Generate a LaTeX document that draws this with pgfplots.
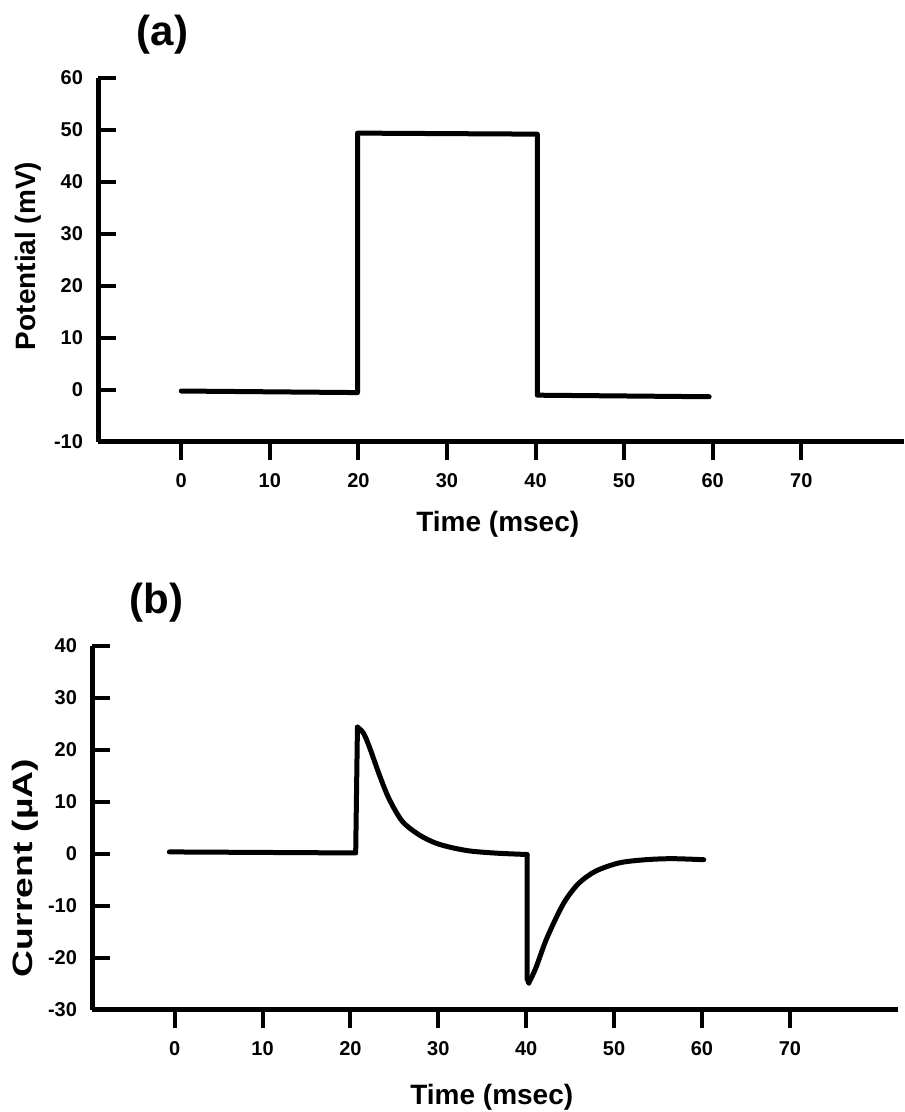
\documentclass[border=0pt]{standalone}
\usepackage{fontspec}
\setmainfont{Liberation Sans}
\usepackage{graphicx}
\usepackage{pgfplots}
\pgfplotsset{compat=1.18}

\pgfplotsset{
  panel/.style={
    scale only axis,
    width=403pt, height=182pt,
    anchor=south west,
    axis lines*=left,
    axis line style={line width=2.5pt, black},
    tick align=outside,
    tick style={line width=2pt, black},
    major tick length=9pt,
    ytick style={xshift=9pt},
    % downward x ticks drawn as short grid stubs below the axis
    xmajorgrids,
    x grid style={black, line width=2pt, dash pattern=on 9pt off 400pt, yshift=-9pt},
    xtick={0,10,20,30,40,50,60,70},
    /pgf/number format/assume math mode=true,
    tick label style={font=\bfseries\fontsize{10}{12}\selectfont},
    xticklabel style={yshift=-3pt},
    yticklabel style={xshift=5pt},
    label style={font=\bfseries\fontsize{14}{16}\selectfont},
    every axis title/.style={at={(rel axis cs:0.08,1.118)}, anchor=center,
      font=\bfseries\fontsize{21}{24}\selectfont},
    clip=false,
  },
  curve/.style={black, line width=2.5pt, line join=round, line cap=round},
}

\begin{document}
\begin{tikzpicture}
\path[use as bounding box] (0,0) rectangle (452pt,556pt);

% (a) voltage step
\begin{axis}[panel,
  at={(49pt,335pt)},
  xmin=-9.4, xmax=81.6,
  ymin=-10, ymax=60,
  ytick={-10,0,...,60},
  xlabel={Time (msec)},
  ylabel={Potential (mV)},
  xlabel style={at={(rel axis cs:0.496,-0.225)}, anchor=center},
  ylabel style={at={(rel axis cs:-0.087,0.511)}, anchor=center},
  title={(a)},
]
\addplot[curve] coordinates {
  (0,-0.2) (19.9,-0.5) (19.9,49.4) (40.2,49.2) (40.2,-1.0) (59.6,-1.3)
};
\end{axis}

% (b) current response
\begin{axis}[panel,
  at={(46pt,51pt)},
  xmin=-9.4, xmax=82.3,
  ymin=-30, ymax=40,
  ytick={-30,-20,...,40},
  xlabel={Time (msec)},
  ylabel={\scalebox{1.33}[1]{Current (µA)}},
  xlabel style={at={(rel axis cs:0.496,-0.239)}, anchor=center},
  ylabel style={at={(rel axis cs:-0.083,0.39)}, anchor=center},
  title={(b)},
]
% baseline and step up
\addplot[curve] coordinates {
  (-0.6,0.4) (20.6,0.2) (20.8,24.4)
};
% decay after the step up
\addplot[curve, smooth, tension=0.5] coordinates {
  (20.8,24.4) (21.5,23.2) (22.2,20.4) (23.3,15.2) (24.4,10.6) (25.9,6.3)
  (27.8,3.7) (29.7,2.1) (31.6,1.2) (33.5,0.6) (35.4,0.3) (37.3,0.1) (40.1,-0.1)
};
% step down
\addplot[curve] coordinates {
  (40.1,-0.1) (40.1,-24.0) (40.3,-24.8)
};
% recovery
\addplot[curve, smooth, tension=0.5] coordinates {
  (40.3,-24.8) (41.1,-21.9) (42.2,-16.8) (43.4,-12.3) (44.5,-8.8) (46.0,-5.6)
  (47.9,-3.3) (50.6,-1.7) (53.6,-1.1) (56.6,-0.9) (60.2,-1.1)
};
\end{axis}
\end{tikzpicture}
\end{document}
